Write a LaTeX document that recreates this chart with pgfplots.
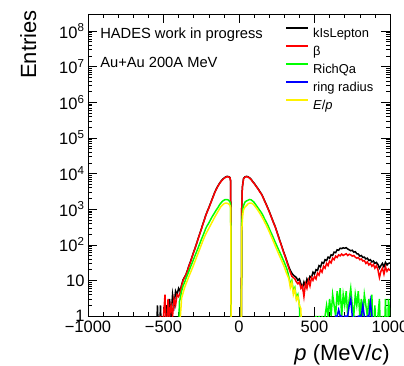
\documentclass[border=0pt]{standalone}
\usepackage{fontspec}
\setmainfont{Liberation Sans}
\usepackage{pgfplots}
\pgfplotsset{compat=1.18}
\begin{document}
\begin{tikzpicture}[x=1pt,y=1pt]
\begin{axis}[
  at={(0,0)}, anchor=south west, name=ax,
  width=302pt, height=302pt, scale only axis,
  ymode=log, xmin=-1000, xmax=1000, ymin=1, ymax=3e8,
  xtick={-1000,-500,0,500,1000},
  xticklabels={−1000,−500,0,500,1000},
  minor x tick num=4,
  ytick={1,10,100,1000,10000,100000,1000000,10000000,100000000},
  yticklabels={1,10,10\textsuperscript{2},10\textsuperscript{3},10\textsuperscript{4},10\textsuperscript{5},10\textsuperscript{6},10\textsuperscript{7},10\textsuperscript{8}},
  tick align=inside, xtick pos=both, ytick pos=both,
  major tick length=9pt, minor tick length=4.5pt,
  tick style={black, line width=0.5pt},
  axis line style={line width=0.8pt},
  ticklabel style={font=\fontsize{16.5}{16.5}\selectfont},
  xticklabel style={yshift=-1pt},
  xlabel={\textit{p} (MeV/\textit{c})},
  xlabel style={at={(axis description cs:1,-0.146)}, anchor=base east, inner sep=0pt, font=\fontsize{22}{22}\selectfont},
  ylabel={Entries},
  ylabel style={at={(axis description cs:-0.172,1.013)}, anchor=base east, inner sep=0pt, font=\fontsize{22}{22}\selectfont},
  legend cell align=left,
  legend style={draw=none, fill=none, inner sep=0pt, at={(axis description cs:0.652,0.957)}, anchor=north west,
    font=\fontsize{12.9}{14}\selectfont, row sep=4.75pt, column sep=4pt,
    nodes={inner sep=0pt, text height=9.5pt, text depth=3pt}},
  legend image code/.code={\draw[#1] (0pt,6pt) -- (22pt,6pt);},
  legend image post style={line width=2pt},
  every axis plot/.append style={line width=1.5pt, mark=none},
]
% kIsLepton
\addplot[black] coordinates {
(-550,0.1)(-540,2)(-530,0.1)(-520,2)(-510,0.1)(-500,1)(-490,0.1)(-480,2)(-470,1)(-460,3)(-450,1)(-440,4)(-430,2)(-420,5)(-410,4)(-400,6)
(-390,5)(-380,7.5)(-370,10.5)(-360,12.5)(-350,15)(-340,20)(-330,27)(-320,35)(-310,47)(-300,63)(-290,83)(-280,112)(-270,151)(-260,204)(-250,274)(-240,370)(-230,500)(-220,674)(-210,868)(-200,1093)(-190,1408)(-180,1814)(-170,2337)(-160,3010)(-150,3704)(-140,4452)(-130,5232)(-120,6006)(-110,6739)(-100,7389)(-90,7917)(-80,8290)(-70,8200)(-60,7750)(-55,6100)(-52,0.1)
(15,0.1)(18,1020)(22,4060)(30,7220)(40,8100)(50,8290)(60,8100)(70,7560)(80,6900)(90,6006)(100,5353)(110,4662)(120,4061)(130,3536)(140,3010)(150,2621)(160,2131)(170,1693)(180,1376)(190,1093)(200,868)(210,674)(220,523)(230,406)(240,322)(250,240)(260,178)(270,132)(280,100)(290,74)(300,56)(310,43)(320,32)(330,24)
(340,19)(350,16)(360,14)(370,13)(380,12)(390,10)(400,11)(410,8)(420,6)(430,9)(440,7)(450,11)(460,9)(470,13)(480,12)(490,17)(500,15)(510,20)(520,19)(530,26)(540,24)(550,32)(560,30)(570,38)(580,36)(590,45)(600,42)(610,52)(620,50)(630,62)(640,60)(650,72)(660,70)(670,80)(680,78)(690,82)(700,80)(710,83)(720,76)(730,72)(740,68)(750,70)(760,62)(770,64)(780,56)(790,55)(800,48)(810,50)(820,44)(830,45)(840,40)(850,42)(860,36)(870,38)(880,33)(890,35)(900,30)(910,32)(920,28)(930,22)(940,26)(950,30)(960,24)(970,32)(980,27)(990,30)(1000,31)
};
\addlegendentry{kIsLepton}
% beta
\addplot[red] coordinates {
(-530,0.1)(-520,1)(-510,0.1)(-500,1)(-490,4)(-480,0.1)(-470,3)(-460,1)(-450,2)(-440,1)(-430,3)(-420,2)(-410,4)(-400,3.5)
(-390,4.5)(-380,7)(-370,10)(-360,12)(-350,14.8)(-340,19.5)(-330,26)(-320,34)(-310,46)(-300,62)(-290,81)(-280,110)(-270,148)(-260,200)(-250,269)(-240,363)(-230,490)(-220,661)(-210,851)(-200,1072)(-190,1380)(-180,1778)(-170,2291)(-160,2951)(-150,3631)(-140,4365)(-130,5129)(-120,5888)(-110,6607)(-100,7244)(-90,7762)(-80,8128)(-70,8040)(-60,7600)(-55,6000)(-52,0.1)
(15,0.1)(18,1000)(22,3981)(30,7079)(40,7943)(50,8128)(60,7943)(70,7413)(80,6761)(90,5888)(100,5248)(110,4571)(120,3981)(130,3467)(140,2951)(150,2570)(160,2089)(170,1660)(180,1349)(190,1072)(200,851)(210,661)(220,513)(230,398)(240,316)(250,234)(260,174)(270,129)(280,98)(290,72)(300,54)(310,41)(320,30)(330,22)
(340,16.6)(350,13)(360,12)(370,11)(380,9)(390,8)(400,9)(410,6)(420,7)(430,3.5)(440,8)(450,6)(460,10)(470,7)(480,12)(490,10)(500,13)(510,11)(520,16)(530,14)(540,20)(550,17)(560,25)(570,22)(580,30)(590,26)(600,35)(610,31)(620,42)(630,38)(640,48)(650,44)(660,52)(670,49)(680,55)(690,50)(700,53)(710,56)(720,50)(730,54)(740,52)(750,48)(760,50)(770,45)(780,42)(790,44)(800,38)(810,40)(820,35)(830,36)(840,30)(850,33)(860,27)(870,30)(880,25)(890,28)(900,22)(910,26)(920,20)(930,12)(940,18)(950,22)(960,15)(970,24)(980,18)(990,21)(1000,19)
};
\addlegendentry{β}
% RichQa
\addplot[green] coordinates {
(-400,0.1)(-395,2.5)(-390,3)(-380,5)(-370,7.1)(-360,8.9)(-350,11.7)(-340,14.8)(-330,19)(-320,24.5)(-310,31)(-300,40)(-290,51)(-280,65)(-270,83)(-260,107)(-250,138)(-240,174)(-230,224)(-220,288)(-210,347)(-200,407)(-190,490)(-180,589)(-170,692)(-160,813)(-150,955)(-140,1096)(-130,1300)(-120,1479)(-110,1660)(-100,1778)(-90,1862)(-80,1862)(-70,1800)(-60,1600)(-55,1300)(-52,0.1)
(15,0.1)(18,398)(25,1000)(30,1259)(40,1585)(50,1700)(60,1778)(70,1862)(80,1820)(90,1698)(100,1549)(110,1349)(120,1175)(130,1023)(140,891)(150,776)(160,646)(170,525)(180,437)(190,363)(200,288)(210,229)(220,186)(230,148)(240,117)(250,95)(260,76)(270,62)(280,50)(290,40)(300,32)(310,25)(320,19)(330,12.6)(340,7.9)(350,10)(360,5)(370,6.3)(380,3.2)(390,4)(400,2)(410,0.1)
(500,0.1)(510,1)(520,0.1)(530,1)(540,0.1)(550,1)(560,0.1)(570,1)(580,2)(590,1)(600,3)(610,1)(620,4)(630,2)(640,1)(650,5)(660,2)(670,6)(680,1)(690,4)(700,2)(710,5)(720,1)(730,3)(740,6)(750,2)(760,1)(770,4)(780,2)(790,5)(800,1)(810,3)(820,1)(830,4)(840,2)(850,1)(860,3)(870,1)(880,4)(890,0.1)(900,2)(910,0.1)(920,1)(930,3)(940,0.1)(950,1)(960,0.1)(970,3)(980,0.1)(990,3)(1000,1)
};
\addlegendentry{RichQa}
% ring radius
\addplot[blue] coordinates {
(630,0.1)(640,1)(650,1)(660,1.5)(670,1)(680,1)(690,0.1)(700,1)(710,1)(720,1)(730,2)(740,3)(750,1)(760,0.1)(770,1)(780,0.1)(790,1)(800,1)(810,1)(820,2)(830,1)(840,0.1)(850,1)(860,1)(870,2.5)(880,1)(890,0.1)
};
\addlegendentry{ring radius}
% E/p
\addplot[yellow] coordinates {
(-392,0.1)(-388,1)(-380,3.2)(-370,4.5)(-360,6.3)(-350,8.2)(-340,10.5)(-330,13.5)(-320,17)(-310,21.5)(-300,27.5)(-290,35.5)(-280,46)(-270,59)(-260,76)(-250,98)(-240,126)(-230,160)(-220,200)(-210,240)(-200,288)(-190,347)(-180,417)(-170,501)(-160,603)(-150,716)(-140,851)(-130,1000)(-120,1175)(-110,1300)(-100,1413)(-90,1479)(-80,1479)(-70,1420)(-60,1280)(-55,1050)(-52,0.1)
(15,0.1)(18,251)(25,708)(30,955)(40,1150)(50,1259)(60,1413)(70,1479)(80,1479)(90,1413)(100,1288)(110,1140)(120,1000)(130,860)(140,741)(150,625)(160,525)(170,430)(180,355)(190,290)(200,234)(210,186)(220,148)(230,118)(240,93)(250,74)(260,59)(270,47)(280,38)(290,30)(300,24)(310,18)(320,14)(330,11.2)(340,6.3)(350,8.9)(360,4)(370,5.6)(380,2.8)(390,3.5)(400,2)(410,1.6)(415,0.1)
};
\addlegendentry{\textit{E}/\textit{p}}
\node[anchor=base west, inner sep=0pt, font=\fontsize{14.7}{14.7}\selectfont] at (axis description cs:0.04,0.9195) {HADES work in progress};
\node[anchor=base west, inner sep=0pt, font=\fontsize{14.7}{14.7}\selectfont] at (axis description cs:0.04,0.823) {Au+Au 200A MeV};
\end{axis}
\pgfresetboundingbox
\path[use as bounding box] (-88,-49) rectangle (316,316);
\end{tikzpicture}
\end{document}
